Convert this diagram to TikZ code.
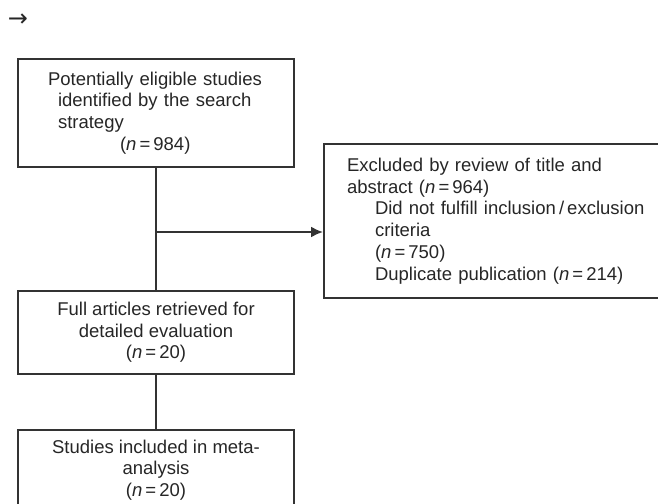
\documentclass[tikz,border=0pt]{standalone}
\usepackage{fontspec}
\setmainfont{Liberation Sans}
\newfontfamily\symfont{DejaVu Sans}
\usetikzlibrary{arrows.meta}
\usetikzlibrary{positioning}

\begin{document}
\begin{tikzpicture}[x=1pt, y=-1pt,
      box/.style={rectangle, draw=black!80, line width=2pt, text=black!85,
        font=\fontsize{18.5}{21.7}\selectfont, minimum width=276pt},
      link/.style={draw=black!80, line width=2pt},
      arrow/.style={link, -{Latex[length=12pt, width=11pt]}}
      ]
      \useasboundingbox (0,0) rectangle (658,503);

      % Nodes
      \node[text=black!85, font=\symfont\fontsize{24}{24}\selectfont, inner sep=0pt] (arr) at (18,20) {→};

      \node[box, anchor=north west, inner xsep=30pt, text width=216pt, align=left,
        minimum height=108pt] (found) at (17,58)
        {Potentially eligible studies\\
         \hspace*{10pt}identified by the search\\
         \hspace*{10pt}strategy\\
         \hspace*{72pt}(\textit{n}\,=\,984)};

      \node[box, below=122pt of found, align=center, minimum height=83pt] (full)
        {Full articles retrieved for\\ detailed evaluation\\ (\textit{n}\,=\,20)};

      \node[box, below=54pt of full, align=center, minimum height=80pt] (incl)
        {Studies included in meta-\\ analysis\\ (\textit{n}\,=\,20)};

      \node[box, anchor=north west, inner xsep=23pt, text width=304pt, align=left,
        minimum height=154pt] (excl) at (323,143)
        {Excluded by review of title and\\
         abstract (\textit{n}\,=\,964)\\
         \hspace*{28pt}Did not fulfill inclusion\,/\,exclusion\\
         \hspace*{28pt}criteria\\
         \hspace*{28pt}(\textit{n}\,=\,750)\\
         \hspace*{28pt}Duplicate publication (\textit{n}\,=\,214)};

      \coordinate (split) at (found.south |- 0,232);

      % Arrows
      \draw[link] (found) -- (full);
      \draw[link] (full) -- (incl);
      \draw[arrow] (split) -- (split -| excl.west);

\end{tikzpicture}
\end{document}
